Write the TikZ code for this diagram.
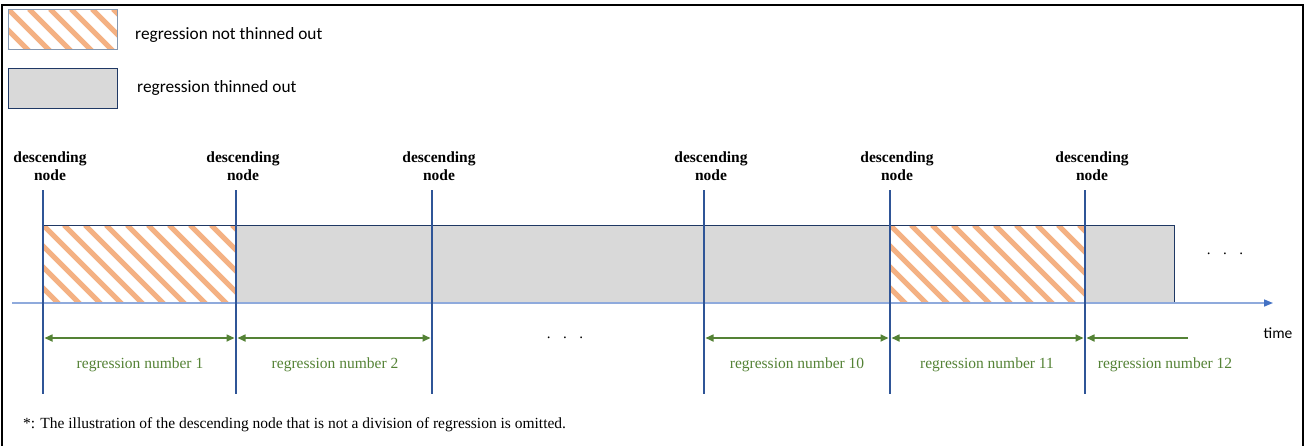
\documentclass[tikz,border=0pt]{standalone}
\usepackage{fontspec}
\setmainfont{Liberation Serif}
\newfontfamily\calibrilike{Carlito}
\usetikzlibrary{arrows.meta}

\definecolor{stripeorange}{HTML}{F4B183}
\definecolor{thinnedgray}{HTML}{D9D9D9}
\definecolor{nodeblue}{HTML}{2F5597}
\definecolor{boxnavy}{HTML}{1F3864}
\definecolor{axisblue}{HTML}{8FAADC}
\definecolor{axishead}{HTML}{4472C4}
\definecolor{spangreen}{HTML}{548235}
\definecolor{legendedge}{HTML}{8497B0}

% diagonal orange stripes clipped to a rectangle (x1,y1,x2,y2)
\newcommand\stripefill[4]{%
  \begin{scope}
    \clip (#1,#2) rectangle (#3,#4);
    \foreach \s in {-126,-105,...,252}
      \draw[hatchline] ({#1+\s},#2) -- ++(130,130);
  \end{scope}}

\begin{document}
\begin{tikzpicture}[x=1pt,y=-1pt,
  hatchline/.style={stripeorange,line width=5pt},
  divline/.style={nodeblue,line width=2.3pt},
  nodelabel/.style={font=\bfseries\fontsize{15.5}{18}\selectfont,align=center,inner sep=0pt},
  spanlabel/.style={font=\fontsize{15.5}{18}\selectfont,text=spangreen,inner sep=0pt},
  legendtext/.style={font=\calibrilike\fontsize{17.3}{20}\selectfont,anchor=west,inner sep=0pt},
  spanarrow/.style={spangreen,line width=1.6pt,-{Triangle[length=8pt,width=7pt]}},
  spanboth/.style={spangreen,line width=1.6pt,{Triangle[length=8pt,width=7pt]}-{Triangle[length=8pt,width=7pt]}},
  dots/.style={font=\fontsize{15}{18}\selectfont,inner sep=0pt}]

\useasboundingbox (0,0) rectangle (1305,445);

% outer frame (open at the bottom)
\draw[line width=2.5pt] (2,446) -- (2,5) -- (1303,5) -- (1303,446);

% legend
\stripefill{8}{9}{117}{49}
\draw[legendedge,line width=0.8pt] (8,9) rectangle (117,49);
\node[legendtext] (leg1) at (135,35) {regression not thinned out};
\fill[thinnedgray] (8,68) rectangle (117,108);
\draw[boxnavy,line width=0.8pt] (8,68) rectangle (117,108);
\node[legendtext] (leg2) at (137,88) {regression thinned out};

% regression strip
\stripefill{43}{225}{236}{303}
\fill[thinnedgray] (236,225) rectangle (890,303);
\stripefill{890}{225}{1085}{303}
\fill[thinnedgray] (1085,225) rectangle (1174,303);
\draw[boxnavy,line width=1pt] (43,303) -- (43,225) -- (1174,225) -- (1174,303);

% time axis
\coordinate (axL) at (12,303);
\coordinate (axR) at (1273,303);
\draw[axisblue,line width=1.5pt,-{Triangle[length=9pt,width=7pt,color=axishead]}] (axL) -- (axR);
\node[font=\calibrilike\fontsize{15.5}{18}\selectfont,inner sep=0pt] (time) at (1278,333) {time};

% descending nodes
\foreach \i/\x in {1/43,2/236,3/432,4/704,5/890,6/1085}{
  \coordinate (t\i) at (\x,190);
  \coordinate (b\i) at (\x,394);
  \coordinate (a\i) at (\x,338);
  \node[nodelabel] (lab\i) at (\x+7,166) {descending\\node};
  \draw[divline] (t\i) -- (b\i);
}

% span arrows
\coordinate (a7) at (1188,338);
\draw[spanboth] ([xshift=1.5pt]a1) -- ([xshift=-1.5pt]a2);
\draw[spanboth] ([xshift=1.5pt]a2) -- ([xshift=-1.5pt]a3);
\draw[spanboth] ([xshift=1.5pt]a4) -- ([xshift=-1.5pt]a5);
\draw[spanboth] ([xshift=1.5pt]a5) -- ([xshift=-1.5pt]a6);
\draw[spanarrow] (a7) -- ([xshift=1.5pt]a6);

% span labels
\node[spanlabel] (r1) at (140,365) {regression number 1};
\node[spanlabel] (r2) at (335,365) {regression number 2};
\node[spanlabel] (r10) at (797,365) {regression number 10};
\node[spanlabel] (r11) at (987,365) {regression number 11};
\node[spanlabel] (r12) at (1165,365) {regression number 12};

% ellipses
\node[dots] (dmid) at (565,338) {.\hspace{12.5pt}.\hspace{12.5pt}.};
\node[dots] (dend) at (1225,254) {.\hspace{12.5pt}.\hspace{12.5pt}.};

% footnote
\node[font=\fontsize{15.5}{18}\selectfont,anchor=west,inner sep=0pt] (note) at (23,425)
  {*: The illustration of the descending node that is not a division of regression is omitted.};

\end{tikzpicture}
\end{document}
